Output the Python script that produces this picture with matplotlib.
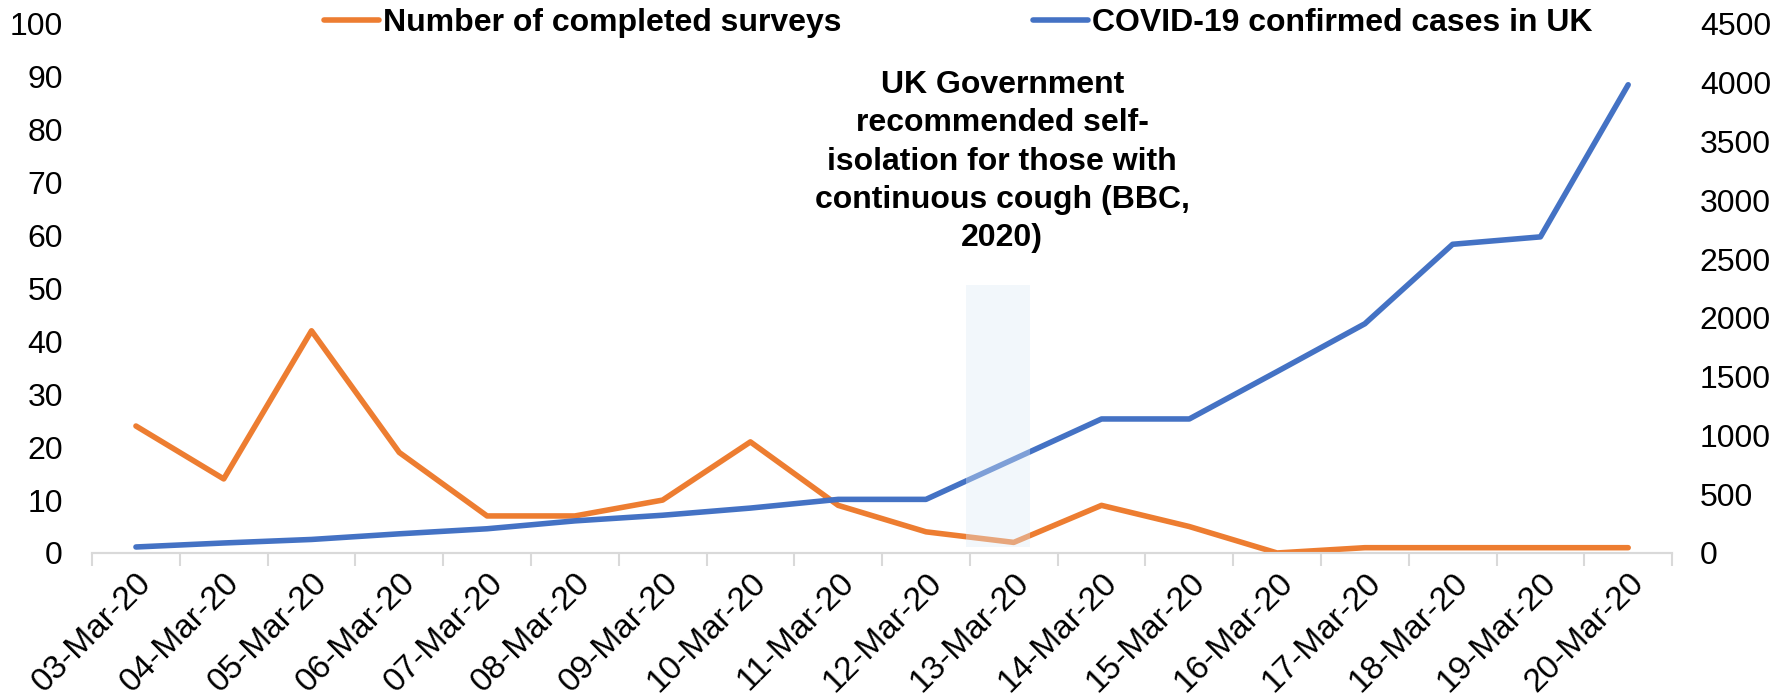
import numpy as np
import matplotlib
matplotlib.use("Agg")
import matplotlib.pyplot as plt
from matplotlib.patches import Rectangle

plt.rcParams['font.family'] = ['Liberation Sans', 'DejaVu Sans']

dates = ["03-Mar-20", "04-Mar-20", "05-Mar-20", "06-Mar-20", "07-Mar-20", "08-Mar-20",
         "09-Mar-20", "10-Mar-20", "11-Mar-20", "12-Mar-20", "13-Mar-20", "14-Mar-20",
         "15-Mar-20", "16-Mar-20", "17-Mar-20", "18-Mar-20", "19-Mar-20", "20-Mar-20"]
surveys = [24, 14, 42, 19, 7, 7, 10, 21, 9, 4, 2, 9, 5, 0, 1, 1, 1, 1]
cases = [51, 85, 115, 163, 206, 273, 321, 382, 456, 456, 798, 1140, 1140, 1543, 1950, 2626, 2689, 3983]
note = "UK Government\nrecommended self-\nisolation for those with\ncontinuous cough (BBC,\n2020)"

orange = "#ED7D31"
blue = "#4472C4"

fig = plt.figure(figsize=(17.91, 6.99), dpi=100)
ax = fig.add_axes([0.0514, 0.2089, 0.8822, 0.7568])
ax2 = ax.twinx()

x = np.arange(len(dates))
ax.plot(x, surveys, color=orange, lw=4, solid_capstyle='round', solid_joinstyle='round',
        label="Number of completed surveys")
ax2.plot(x, cases, color=blue, lw=4, solid_capstyle='round', solid_joinstyle='round',
         label="COVID-19 confirmed cases in UK")

# translucent box marking 13 March, drawn over both lines
ax2.add_patch(Rectangle((9.46, 50), 0.72, 2230, facecolor="#DEEBF7", edgecolor='none',
                        alpha=0.38, zorder=5))
ax2.text(9.87, 3330, note, ha='center', va='center', fontsize=23, fontweight='bold',
         linespacing=1.36, zorder=6)

ax.set_xlim(-0.5, len(dates) - 0.5)
ax.set_ylim(0, 100)
ax2.set_ylim(0, 4500)
ax.set_yticks(np.arange(0, 101, 10))
ax2.set_yticks(np.arange(0, 4501, 500))

ax.set_xticks(x)
ax.set_xticklabels(dates, rotation=45, ha='right', rotation_mode='anchor')
ax.set_xticks(np.arange(-0.5, len(dates)), minor=True)
ax.tick_params(axis='x', which='major', length=0, pad=10, labelsize=24)
ax.tick_params(axis='x', which='minor', length=9, width=1.5, color="#D9D9D9")
ax.tick_params(axis='y', length=0, pad=21, labelsize=23)
ax2.tick_params(axis='y', length=0, pad=20, labelsize=23)

for a in (ax, ax2):
    for s in ('top', 'left', 'right'):
        a.spines[s].set_visible(False)
    a.spines['bottom'].set_color("#D9D9D9")
    a.spines['bottom'].set_linewidth(1.5)
    a.patch.set_visible(False)

h1, l1 = ax.get_legend_handles_labels()
h2, l2 = ax2.get_legend_handles_labels()
fig.legend(h1 + h2, l1 + l2, loc='center', bbox_to_anchor=(0.535, 0.967), ncol=2,
           frameon=False, handlelength=1.72, handletextpad=0.13, columnspacing=6.0,
           prop={'size': 23, 'weight': 'bold'})

fig.savefig("out.png", dpi=100)
